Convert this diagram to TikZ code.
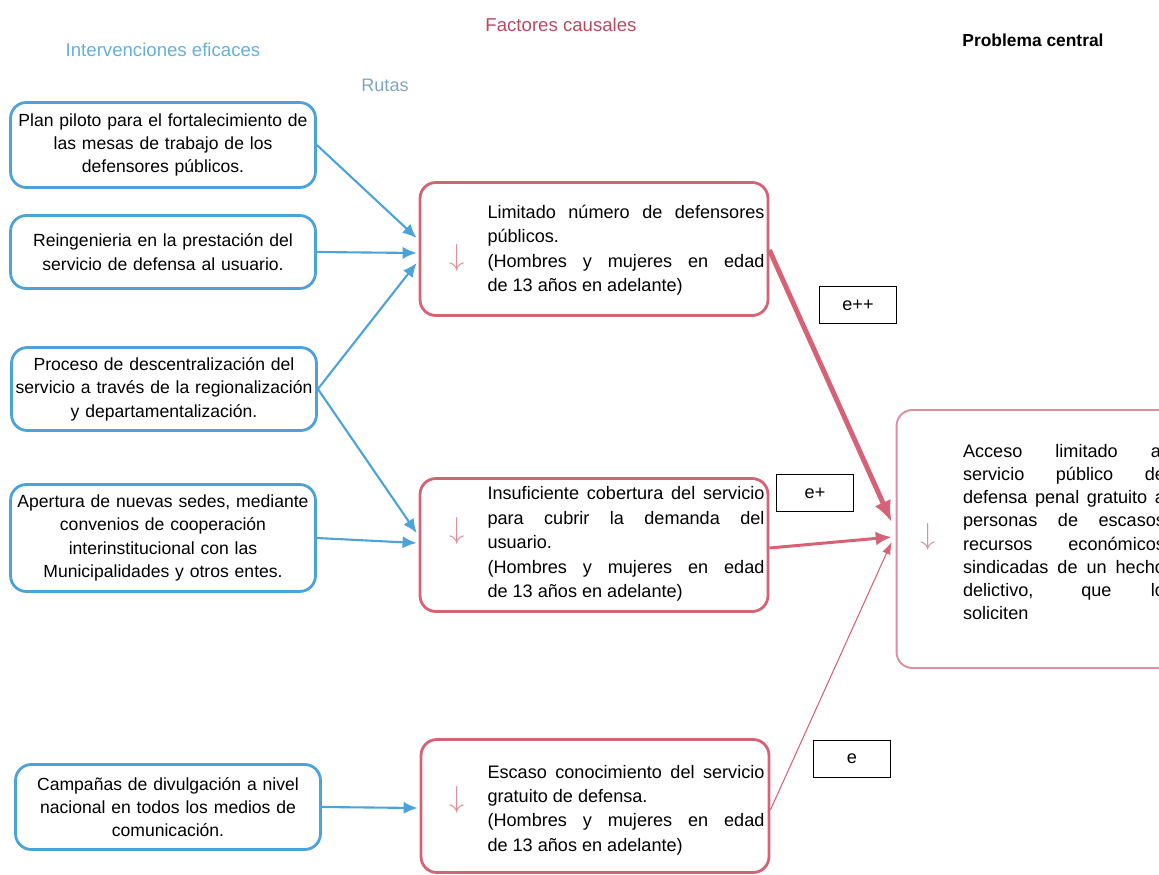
\documentclass[tikz,border=0pt]{standalone}
\usepackage{fontspec}
\setmainfont{Liberation Sans}
\usetikzlibrary{arrows.meta,calc}
\definecolor{azul}{RGB}{77,163,217}
\definecolor{azulclaro}{RGB}{100,176,218}
\definecolor{gris}{RGB}{128,165,196}
\definecolor{rojo}{RGB}{214,98,118}
\definecolor{rosa}{RGB}{224,142,155}
\definecolor{titrojo}{RGB}{184,74,96}
\tikzset{
  interv/.style={draw=azul, line width=1.6pt, rounded corners=9pt, minimum width=6.1cm, text width=6.05cm, align=center, inner sep=0pt, font=\fontsize{10}{13.3}\selectfont},
  factor/.style={draw=rojo, line width=1.6pt, rounded corners=9pt, minimum width=6.96cm, minimum height=2.66cm},
  factxt/.style={text width=5.54cm, align=justify, inner sep=0pt, font=\fontsize{10.3}{13.9}\selectfont},
  flecha/.style={text=rosa, inner sep=0pt, font=\fontsize{17.28}{17.28}\selectfont},
  ruta/.style={azul, line width=1.2pt, -{Latex[length=8pt,width=7pt]}},
  efecto/.style={rojo},
  grado/.style={draw, line width=1.1pt, minimum width=1.54cm, minimum height=0.74cm, font=\fontsize{10.3}{12}\selectfont}
}
\begin{document}
\begin{tikzpicture}[x=0.02cm, y=-0.02cm]
\useasboundingbox (0,0) rectangle (1159,875);
\clip (0,0) rectangle (1159,875);
\node[text=azulclaro, font=\fontsize{10.6}{12}\selectfont] (tinterv) at (163,50) {Intervenciones eficaces};
\node[text=titrojo, font=\fontsize{10.6}{12}\selectfont] (tfact) at (561,25) {Factores causales};
\node[text=gris, font=\fontsize{10.3}{12}\selectfont] (truta) at (385,85) {Rutas};
\node[font=\bfseries\fontsize{9.9}{12}\selectfont] (tprob) at (1033,40) {Problema central};

\node[interv, minimum height=1.7cm] (plan) at (163,145) {Plan piloto para el fortalecimiento de\\las mesas de trabajo de los\\defensores públicos.};
\node[interv, minimum height=1.46cm] (reing) at (163,252) {Reingenieria en la prestación del\\servicio de defensa al usuario.};
\node[interv, minimum height=1.66cm] (desc) at (164,389) {Proceso de descentralización del\\servicio a través de la regionalización\\y departamentalización.};
\node[interv, minimum height=2.14cm] (aper) at (163,538) {Apertura de nuevas sedes, mediante\\convenios de cooperación\\interinstitucional con las\\Municipalidades y otros entes.};
\node[interv, minimum height=1.7cm] (camp) at (168,807) {Campañas de divulgación a nivel\\nacional en todos los medios de\\comunicación.};

\node[factor] (lim) at (594,249) {};
\node[factor] (insuf) at (594,545) {};
\node[factor] (escaso) at (595,806) {};
\node[flecha] (limf) at (457,258) {$\downarrow$};
\node[flecha] (insuff) at (457,531) {$\downarrow$};
\node[flecha] (escasof) at (457,800) {$\downarrow$};
\node[factxt] (limt) at (626,250) {Limitado número de defensores\linebreak públicos.\\(Hombres y mujeres en edad\linebreak de 13 años en adelante)};
\node[factxt] (insuft) at (626,544) {Insuficiente cobertura del servicio\linebreak para cubrir la demanda del\linebreak usuario.\\(Hombres y mujeres en edad\linebreak de 13 años en adelante)};
\node[factxt] (escasot) at (626,810) {Escaso conocimiento del servicio\linebreak gratuito de defensa.\\(Hombres y mujeres en edad\linebreak de 13 años en adelante)};

\node[draw=rosa, line width=1.1pt, rounded corners=9pt, minimum width=6.06cm, minimum height=5.16cm] (fin) at (1048,539) {};
\node[flecha] (finf) at (928,537) {$\downarrow$};
\node[factxt, text width=4.04cm, font=\fontsize{10.3}{13.2}\selectfont] (fint) at (1064,532) {Acceso limitado al\linebreak servicio público de\linebreak defensa penal gratuito a\linebreak personas de escasos\linebreak recursos económicos\linebreak sindicadas de un hecho\linebreak delictivo, que lo\linebreak soliciten};

\node[grado] (gmax) at (858,305) {e++};
\node[grado] (gmed) at (815,493) {e+};
\node[grado] (gmin) at (852,759) {e};

\draw[ruta] (plan.east) -- ($(lim.west)+(-2,-11)$);
\draw[ruta] (reing.east) -- ($(lim.west)+(-2,4)$);
\draw[ruta] (desc.east) -- ($(lim.west)+(-2,14)$);
\draw[ruta] (desc.east) -- ($(insuf.west)+(-2,-12)$);
\draw[ruta] (aper.east) -- ($(insuf.west)+(-2,-2)$);
\draw[ruta] (camp.east) -- ($(escaso.west)+(-2,2)$);

\draw[efecto, line width=2.8pt, -{Latex[length=12pt,width=10pt]}] ($(lim.east)+(0,1)$) -- ($(fin.west)+(-4,-17)$);
\draw[efecto, line width=1.7pt, -{Latex[length=9pt,width=8pt]}] ($(insuf.east)+(0,3)$) -- ($(fin.west)+(-4,-2)$);
\draw[efecto, line width=0.6pt, -{Latex[length=7pt,width=5pt]}] ($(escaso.east)+(0,4)$) -- ($(fin.west)+(-4,3)$);
\end{tikzpicture}
\end{document}
